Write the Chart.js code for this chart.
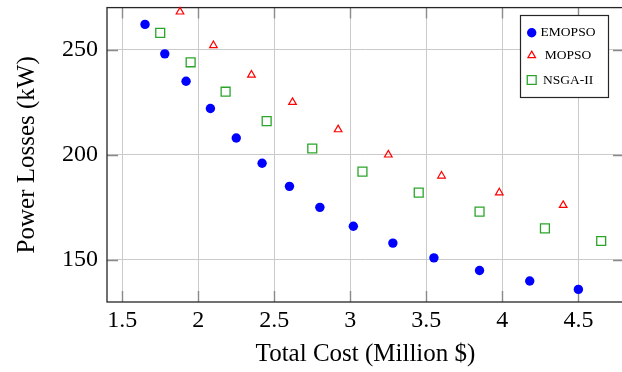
<!DOCTYPE html>
<html>
<head>
<meta charset="utf-8">
<script src="https://cdn.jsdelivr.net/npm/chart.js@4.4.1/dist/chart.umd.min.js"></script>
<style>
  html, body { margin: 0; padding: 0; background: #ffffff; overflow: hidden; }
  #wrap { width: 640px; height: 372px; }
</style>
</head>
<body>
<div id="wrap"><canvas id="c" width="640" height="372"></canvas></div>
<script>
// Pareto fronts: total cost (million $) vs. power losses (kW)
const emopsoCost = [1.65, 1.78, 1.92, 2.08, 2.25, 2.42, 2.60, 2.80, 3.02, 3.28, 3.55, 3.85, 4.18, 4.50];
const emopsoLoss = [262, 248, 235, 222, 208, 196, 185, 175, 166, 158, 151, 145, 140, 136];

const mopsoCost = [1.88, 2.10, 2.35, 2.62, 2.92, 3.25, 3.60, 3.98, 4.40];
const mopsoLoss = [268, 252, 238, 225, 212, 200, 190, 182, 176];

const nsgaCost = [1.75, 1.95, 2.18, 2.45, 2.75, 3.08, 3.45, 3.85, 4.28, 4.65];
const nsgaLoss = [258, 244, 230, 216, 203, 192, 182, 173, 165, 159];

const seriesNames = ['EMOPSO', 'MOPSO', 'NSGA-II'];
const xTickValues = [1.5, 2, 2.5, 3, 3.5, 4, 4.5];
const yTickValues = [150, 200, 250];
const xRange = [1.4, 4.8];
const yRange = [130, 270];

const toPoints = (xs, ys) => xs.map((x, i) => ({ x: x, y: ys[i] }));

const FONT = "'Liberation Serif', 'Times New Roman', serif";
Chart.defaults.font.family = FONT;
Chart.defaults.color = '#000000';

// Axis frame plus inward major tick marks on all four sides
const framePlugin = {
  id: 'frame',
  beforeDatasetsDraw(chart) {
    const { ctx, chartArea: a, scales } = chart;
    const len = 11;
    ctx.save();
    ctx.strokeStyle = '#8a8a8a';
    ctx.lineWidth = 1.4;
    ctx.beginPath();
    scales.x.ticks.forEach(t => {
      const px = Math.round(scales.x.getPixelForValue(t.value)) + 0.5;
      ctx.moveTo(px, a.bottom); ctx.lineTo(px, a.bottom - len);
      ctx.moveTo(px, a.top); ctx.lineTo(px, a.top + len);
    });
    scales.y.ticks.forEach(t => {
      const py = Math.round(scales.y.getPixelForValue(t.value)) + 0.5;
      ctx.moveTo(a.left, py); ctx.lineTo(a.left + len, py);
      ctx.moveTo(a.right, py); ctx.lineTo(a.right - len, py);
    });
    ctx.stroke();
    ctx.strokeStyle = '#262626';
    ctx.lineWidth = 1.3;
    ctx.strokeRect(a.left, a.top, a.right - a.left, a.bottom - a.top);
    ctx.restore();
  }
};

// Boxed legend in the upper right of the plot
const legendPlugin = {
  id: 'boxLegend',
  afterDraw(chart) {
    const { ctx } = chart;
    const box = { x: 520.5, y: 15.5, w: 88, h: 82 };
    const rowY = [32.7, 55.5, 80];
    const markX = 531.7;
    const textX = 568;
    ctx.save();
    ctx.fillStyle = '#ffffff';
    ctx.fillRect(box.x, box.y, box.w, box.h);
    ctx.strokeStyle = '#262626';
    ctx.lineWidth = 1.2;
    ctx.strokeRect(box.x, box.y, box.w, box.h);
    chart.data.datasets.forEach((ds, i) => {
      ctx.save();
      ctx.fillStyle = ds.backgroundColor;
      ctx.strokeStyle = ds.borderColor;
      ctx.lineWidth = ds.borderWidth;
      Chart.helpers.drawPoint(ctx, {
        pointStyle: ds.pointStyle,
        radius: ds.pointRadius,
        borderWidth: ds.borderWidth,
        rotation: 0
      }, markX, rowY[i]);
      ctx.restore();
      ctx.fillStyle = '#000000';
      ctx.font = "13.5px " + FONT;
      ctx.textAlign = 'center';
      ctx.textBaseline = 'middle';
      ctx.fillText(ds.label, textX, rowY[i]);
    });
    ctx.restore();
  }
};

new Chart(document.getElementById('c'), {
  type: 'scatter',
  data: {
    datasets: [
      {
        label: seriesNames[0],
        data: toPoints(emopsoCost, emopsoLoss),
        pointStyle: 'circle',
        pointRadius: 4.7,
        backgroundColor: '#0000ff',
        borderColor: '#0000ff',
        borderWidth: 0,
        clip: false
      },
      {
        label: seriesNames[1],
        data: toPoints(mopsoCost, mopsoLoss),
        pointStyle: 'triangle',
        pointRadius: 4.4,
        backgroundColor: 'rgba(255,255,255,0)',
        borderColor: '#ff0000',
        borderWidth: 1.2,
        clip: false
      },
      {
        label: seriesNames[2],
        data: toPoints(nsgaCost, nsgaLoss),
        pointStyle: 'rect',
        pointRadius: 6.3,
        backgroundColor: 'rgba(255,255,255,0)',
        borderColor: '#2aa52a',
        borderWidth: 1.3,
        clip: false
      }
    ]
  },
  options: {
    responsive: false,
    animation: false,
    events: [],
    layout: { padding: { top: 6, right: 16, bottom: 0, left: 0 } },
    plugins: {
      legend: { display: false },
      tooltip: { enabled: false }
    },
    scales: {
      x: {
        type: 'linear',
        min: xRange[0],
        max: xRange[1],
        afterBuildTicks: s => { s.ticks = xTickValues.map(v => ({ value: v })); },
        afterFit: s => { s.height = 70; s.paddingLeft = 0; s.paddingRight = 0; },
        border: { display: false },
        grid: { color: '#cacaca', lineWidth: 1, drawTicks: false },
        ticks: {
          padding: 4,
          maxRotation: 0,
          font: { size: 24, lineHeight: 1.2 },
          callback: v => String(v)
        },
        title: {
          display: true,
          text: 'Total Cost (Million $)',
          font: { size: 25, lineHeight: 1 },
          padding: { top: 0, bottom: 5 }
        }
      },
      y: {
        type: 'linear',
        min: yRange[0],
        max: yRange[1],
        afterBuildTicks: s => { s.ticks = yTickValues.map(v => ({ value: v })); },
        afterFit: s => { s.width = 107; s.paddingTop = 0; s.paddingBottom = 0; },
        border: { display: false },
        grid: { color: '#cacaca', lineWidth: 1, drawTicks: false },
        ticks: {
          padding: 9,
          font: { size: 24, lineHeight: 1.2 },
          callback: v => String(v)
        },
        title: {
          display: true,
          text: 'Power Losses (kW)',
          font: { size: 25, lineHeight: 1 },
          padding: { top: 15, bottom: 0 }
        }
      }
    }
  },
  plugins: [framePlugin, legendPlugin]
});
</script>
</body>
</html>
